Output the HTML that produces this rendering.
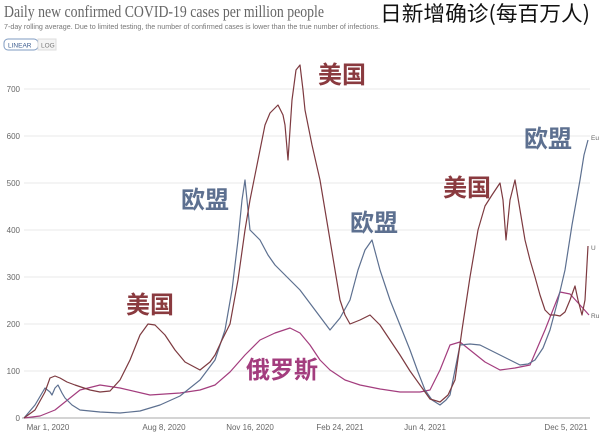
<!DOCTYPE html>
<html><head><meta charset="utf-8"><style>
body{margin:0;width:600px;height:436px;background:#fff;overflow:hidden;font-family:"Liberation Sans",sans-serif}
</style></head><body>
<svg width="600" height="436" xmlns="http://www.w3.org/2000/svg">
<text x="4" y="17" font-family="Liberation Serif,serif" font-size="17" fill="#666" textLength="320" lengthAdjust="spacingAndGlyphs">Daily new confirmed COVID-19 cases per million people</text>
<text x="380" y="21" font-family="'Noto Sans CJK SC',sans-serif" font-size="21" fill="#111" textLength="210" lengthAdjust="spacingAndGlyphs">日新增确诊(每百万人)</text>
<text x="4" y="29" font-size="7.5" fill="#777" textLength="376" lengthAdjust="spacingAndGlyphs">7-day rolling average. Due to limited testing, the number of confirmed cases is lower than the true number of infections.</text>
<rect x="4" y="39" width="34" height="11" rx="4" fill="#fff" stroke="#7f9bc2"/>
<text x="8" y="47.5" font-size="6.5" fill="#3b5c8f">LINEAR</text>
<rect x="38" y="39" width="18" height="11" fill="#f4f4f4" stroke="#ddd"/>
<text x="41" y="47.5" font-size="6.5" fill="#777">LOG</text>
<g stroke="#e8e8e8" stroke-width="1">
<line x1="24" x2="590" y1="371" y2="371"/><line x1="24" x2="590" y1="324" y2="324"/><line x1="24" x2="590" y1="277" y2="277"/><line x1="24" x2="590" y1="230" y2="230"/><line x1="24" x2="590" y1="183" y2="183"/><line x1="24" x2="590" y1="136" y2="136"/><line x1="24" x2="590" y1="89" y2="89"/>
</g>
<line x1="22" x2="590" y1="418" y2="418" stroke="#aaa"/>
<g font-size="8" fill="#666" text-anchor="end">
<text x="20" y="421">0</text><text x="20" y="374">100</text><text x="20" y="327">200</text><text x="20" y="280">300</text><text x="20" y="233">400</text><text x="20" y="186">500</text><text x="20" y="139">600</text><text x="20" y="92">700</text>
</g>
<g font-size="8" fill="#666" text-anchor="middle">
<text x="48" y="430">Mar 1, 2020</text><text x="164" y="430">Aug 8, 2020</text><text x="250" y="430">Nov 16, 2020</text><text x="340" y="430">Feb 24, 2021</text><text x="425" y="430">Jun 4, 2021</text><text x="566" y="430">Dec 5, 2021</text>
</g>
<g fill="none" stroke-width="1.2" stroke-linejoin="round">
<polyline stroke="#a33d7e" points="24,418 40,416 55,410 70,398 80,390 100,385 120,388 150,395 180,393 200,390 215,385 230,372 245,355 260,340 275,333 290,328 300,333 310,345 320,360 330,370 345,380 360,385 380,389 400,392 420,392 430,390 440,370 450,345 460,342 470,350 485,362 500,370 515,368 530,365 545,330 560,292 570,294 580,305 589,315"/>
<polyline stroke="#5d7090" points="24,418 35,405 45,388 50,392 52,395 55,388 58,385 62,393 65,398 72,405 80,410 100,412 120,413 140,411 160,405 180,396 200,380 215,360 225,330 232,290 238,240 242,200 245,180 248,210 250,230 255,235 260,240 268,255 275,265 290,280 300,290 315,310 330,330 340,318 350,300 358,270 365,250 372,240 376,255 380,270 385,285 390,300 400,325 410,350 418,372 425,390 432,400 440,405 446,400 450,395 455,370 460,345 470,344 480,345 490,350 500,355 510,360 520,365 528,364 535,360 543,348 550,330 558,300 565,270 572,225 580,180 584,155 588,140"/>
<polyline stroke="#7d3a40" points="24,418 35,410 45,392 50,378 55,376 60,378 67,382 75,385 90,390 100,392 110,391 120,380 130,360 140,335 148,324 155,325 165,335 175,350 185,362 200,370 210,362 215,355 222,340 230,324 238,280 245,230 250,200 258,160 265,125 270,113 278,105 283,115 285,125 288,160 292,100 296,70 300,65 303,90 305,110 312,145 320,180 330,240 340,300 345,315 350,324 360,320 370,315 380,325 390,340 400,355 410,371 420,385 430,399 440,402 448,395 455,380 462,330 470,277 478,230 485,206 492,195 500,183 503,200 506,240 510,200 515,180 520,210 525,240 530,260 535,277 540,295 545,310 550,315 555,315 560,316 565,312 570,300 575,286 578,300 582,315 585,300 588,246"/>
</g>
<g font-size="6.5" fill="#666"><text x="591" y="140">Eu</text><text x="591" y="250">U</text><text x="591" y="318">Ru</text></g>
<g font-family="'Noto Sans CJK SC',sans-serif" font-weight="bold" font-size="24">
<text x="318" y="83" fill="#8a3a3f">美国</text>
<text x="181" y="208" fill="#5d7090">欧盟</text>
<text x="350" y="231" fill="#5d7090">欧盟</text>
<text x="524" y="147" fill="#5d7090">欧盟</text>
<text x="443" y="196" fill="#8a3a3f">美国</text>
<text x="126" y="313" fill="#8a3a3f">美国</text>
<text x="246" y="378" fill="#a33d7e">俄罗斯</text>
</g>
</svg>
</body></html>
